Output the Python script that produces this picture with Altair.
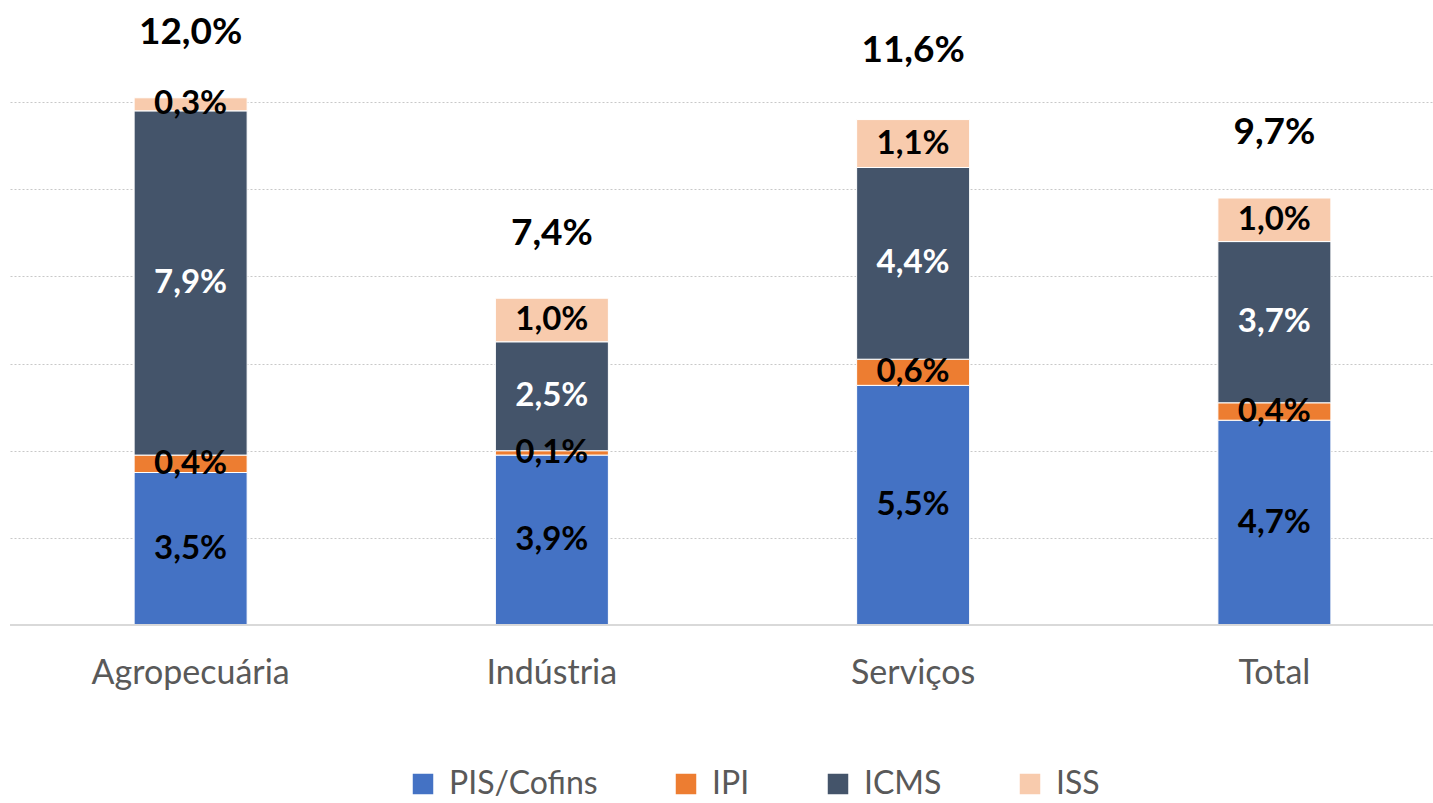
import altair as alt
import pandas as pd

categories = ["Agropecuária", "Indústria", "Serviços", "Total"]
series = ["PIS/Cofins", "IPI", "ICMS", "ISS"]
pis = [3.5, 3.9, 5.5, 4.7]
ipi = [0.4, 0.1, 0.6, 0.4]
icms = [7.9, 2.5, 4.4, 3.7]
iss = [0.3, 1.0, 1.1, 1.0]
totals = [12.0, 7.4, 11.6, 9.7]
colors = ["#4472C4", "#ED7D31", "#44546A", "#F8CBAD"]

rows = []
for s_i, (s, vals) in enumerate(zip(series, [pis, ipi, icms, iss])):
    for c, v in zip(categories, vals):
        rows.append({"cat": c, "serie": s, "ord": s_i, "v": v})
df = pd.DataFrame(rows)
tot = pd.DataFrame({"cat": categories, "total": totals})

FONT = "Lato"
W, H = 1423, 610

xscale = alt.Scale(domain=categories, range=[0, 1445], paddingInner=0, paddingOuter=0)
yscale = alt.Scale(domain=[0, 14], nice=False)

base = alt.Chart(df).transform_stack(
    stack="v", groupby=["cat"], as_=["y0", "y1"], sort=[alt.SortField("ord")]
).transform_calculate(
    mid="(datum.y0 + datum.y1) / 2",
    lab="replace(format(datum.v, '.1f'), '.', ',') + '%'",
)

bars = base.mark_bar(size=113, stroke="white", strokeWidth=1).encode(
    x=alt.X("cat:N", scale=xscale, sort=categories,
            axis=alt.Axis(title=None, domain=False, ticks=False, labelAngle=0,
                          labelFont=FONT, labelFontSize=34, labelColor="#595959",
                          labelPadding=31, labelLimit=0)),
    y=alt.Y("y0:Q", scale=yscale,
            axis=alt.Axis(title=None, labels=False, ticks=False, domain=False,
                          values=[2, 4, 6, 8, 10, 12], grid=True,
                          gridColor="#C8C8C8", gridDash=[2, 2], gridWidth=1)),
    y2="y1:Q",
    color=alt.Color("serie:N", scale=alt.Scale(domain=series, range=colors),
                    legend=alt.Legend(title=None, orient="none", direction="horizontal",
                                      legendX=397, legendY=753,
                                      symbolType="square", symbolSize=420,
                                      symbolStrokeWidth=0, labelFont=FONT,
                                      labelFontSize=32, labelColor="#595959",
                                      labelOffset=10, columnPadding=72, padding=0,
                                      labelLimit=0)),
)

seg_text = base.mark_text(font=FONT, fontSize=33, fontWeight="bold", baseline="middle").encode(
    x=alt.X("cat:N", scale=xscale, sort=categories),
    y=alt.Y("mid:Q", scale=yscale),
    text="lab:N",
    color=alt.condition(alt.datum.serie == "ICMS", alt.value("white"), alt.value("black")),
)

tot_text = alt.Chart(tot).transform_calculate(
    lab="replace(format(datum.total, '.1f'), '.', ',') + '%'"
).mark_text(font=FONT, fontSize=37, fontWeight="bold", baseline="middle", dy=-69, color="black").encode(
    x=alt.X("cat:N", scale=xscale, sort=categories),
    y=alt.Y("total:Q", scale=yscale),
    text="lab:N",
)

baseline = alt.Chart(tot).mark_rule(color="#D9D9D9", strokeWidth=1.5).encode(
    x=alt.value(0), x2=alt.value(W), y=alt.value(H)
)

chart = alt.layer(bars, baseline, seg_text, tot_text).properties(
    width=W, height=H,
    padding={"left": 10, "top": 15, "right": 0, "bottom": 178},
    autosize=alt.AutoSizeParams(type="none"),
    background="white",
).configure_view(strokeWidth=0, stroke="transparent")

chart.save("out.html", embed_options={"renderer": "svg", "actions": False})
